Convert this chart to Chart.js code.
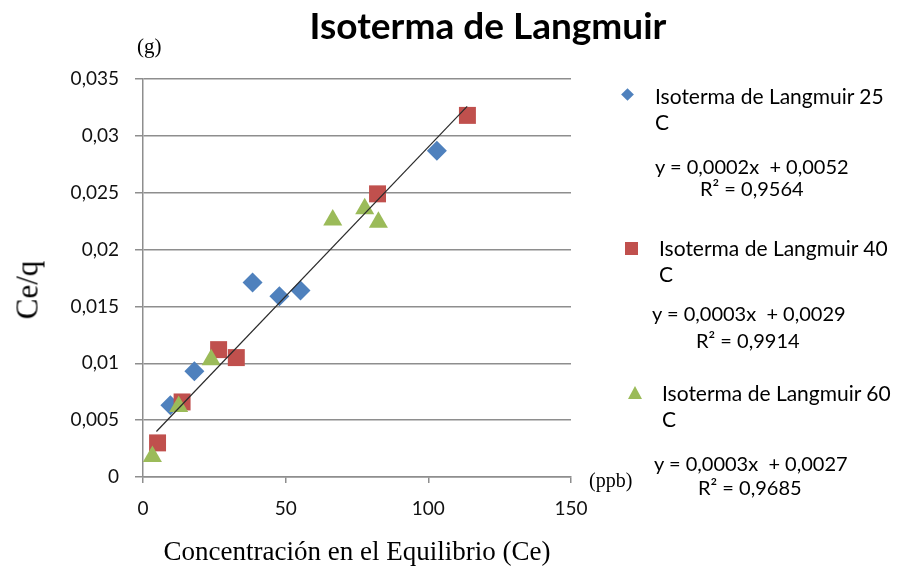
<!DOCTYPE html>
<html>
<head>
<meta charset="utf-8">
<script src="https://cdn.jsdelivr.net/npm/chart.js@4.4.0/dist/chart.umd.min.js"></script>
<style>
html,body{margin:0;padding:0;background:#fff;}
#wrap{position:relative;width:897px;height:571px;overflow:hidden;background:#fff;}
#c{position:absolute;left:0;top:0;}
.t{position:absolute;white-space:pre;line-height:1;color:#000;font-family:Lato,"Open Sans",sans-serif;}
.serif{font-family:"Liberation Serif","Times New Roman",serif;}
.mk{position:absolute;}
</style>
</head>
<body>
<div id="wrap">
<canvas id="c" width="897" height="571"></canvas>
<div id="overlay"></div>
</div>
<script>
// ---- data ----
const x25 = [9.6, 18.0, 38.4, 47.8, 55.2, 103.0];
const y25 = [0.0063, 0.0093, 0.0171, 0.0159, 0.0164, 0.0287];
const x40 = [5.1, 13.7, 26.5, 32.7, 82.2, 113.7];
const y40 = [0.0030, 0.0066, 0.0112, 0.0105, 0.0249, 0.0318];
const x60 = [3.3, 12.5, 23.9, 66.5, 77.7, 82.5];
const y60 = [0.0018, 0.0062, 0.0103, 0.0226, 0.0236, 0.0224];
const trendX = [4.7, 113.6];
const trendY = [0.0040, 0.0326];

const seriesNames = ['Isoterma de Langmuir 25', 'Isoterma de Langmuir 40', 'Isoterma de Langmuir 60'];
const seriesUnit = 'C';
const equations = ['y = 0,0002x  + 0,0052', 'y = 0,0003x  + 0,0029', 'y = 0,0003x  + 0,0027'];
const r2Labels = ['R² = 0,9564', 'R² = 0,9914', 'R² = 0,9685'];
const yTickLabels = ['0', '0,005', '0,01', '0,015', '0,02', '0,025', '0,03', '0,035'];
const xTickLabels = ['0', '50', '100', '150'];
const titleText = 'Isoterma de Langmuir';
const xTitle = 'Concentración en el Equilibrio (Ce)';
const yTitle = 'Ce/q';
const yUnit = '(g)';
const xUnit = '(ppb)';

const colors = ['#4F81BD', '#C0504D', '#9BBB59'];

function pts(xs, ys) { return xs.map((x, i) => ({x: x, y: ys[i]})); }

const gridColor = '#8e8e8e';
const tickFont = {family: 'Lato', size: 19};

new Chart(document.getElementById('c'), {
  type: 'scatter',
  data: {
    datasets: [
      {label: 'trend', data: pts(trendX, trendY), showLine: true, pointRadius: 0, borderColor: '#2b2b2b', borderWidth: 1.2, order: 0},
      {label: seriesNames[2], data: pts(x60, y60), pointStyle: 'triangle', pointRadius: 11, backgroundColor: colors[2], borderColor: colors[2], borderWidth: 0, order: 1},
      {label: seriesNames[1], data: pts(x40, y40), pointStyle: 'rect', pointRadius: 12, backgroundColor: colors[1], borderColor: colors[1], borderWidth: 0, order: 2},
      {label: seriesNames[0], data: pts(x25, y25), pointStyle: 'rectRot', pointRadius: 10, backgroundColor: colors[0], borderColor: colors[0], borderWidth: 0, order: 3}
    ]
  },
  options: {
    responsive: false,
    animation: false,
    events: [],
    devicePixelRatio: 1,
    layout: {padding: {top: 79, right: 326, bottom: 0, left: 0}},
    plugins: {legend: {display: false}, tooltip: {enabled: false}, title: {display: false}},
    scales: {
      x: {
        type: 'linear', min: 0, max: 150,
        afterBuildTicks: s => { s.ticks = xTickLabels.map(v => ({value: Number(v)})); },
        ticks: {callback: (v, i) => xTickLabels[i], padding: 14, font: tickFont, color: '#111', maxRotation: 0},
        grid: {drawOnChartArea: false, drawTicks: true, tickLength: 6, color: gridColor, lineWidth: 1.5},
        border: {color: gridColor, width: 1.5},
        title: {display: true, text: xTitle, color: '#000', font: {family: 'Liberation Serif', size: 27}, padding: {top: 0, bottom: 2}},
        afterFit: s => { s.height = 94; }
      },
      y: {
        type: 'linear', min: 0, max: 0.035,
        afterBuildTicks: s => { s.ticks = yTickLabels.map((v, i) => ({value: i * 0.005})); },
        ticks: {callback: (v, i) => yTickLabels[i], padding: 16, font: tickFont, color: '#111'},
        grid: {drawOnChartArea: true, drawTicks: true, tickLength: 8, color: gridColor, lineWidth: 1.5},
        border: {color: gridColor, width: 1.5},
        title: {display: false},
        afterFit: s => { s.width = 143; }
      }
    }
  }
});

// ---- HTML text overlay (title, axis title, units, legend) ----
const ov = document.getElementById('overlay');
function addText(txt, left, cy, cls, size, extra) {
  const d = document.createElement('div');
  d.className = 't ' + (cls || '');
  d.textContent = txt;
  d.style.fontSize = size + 'px';
  d.style.left = left + 'px';
  d.style.top = (cy - size / 2) + 'px';
  if (extra) Object.assign(d.style, extra);
  ov.appendChild(d);
  return d;
}
addText(titleText, 488, 24, '', 37, {fontWeight: '700', transform: 'translateX(-50%)'});
addText(yTitle, 27, 290, 'serif', 31, {top: '290px', transform: 'translate(-50%,-50%) rotate(-90deg)'});
addText(yUnit, 137, 46, 'serif', 21);
addText(xUnit, 589, 480, 'serif', 20);

const legendTop = [95, 247, 392];
const nameLeft = [655, 659, 662];
const eqLeft = [655, 652, 654];
const eqY = [166, 313, 463];
const r2Left = [700, 696, 698];
const r2Y = [188, 340, 487];
for (let i = 0; i < 3; i++) {
  addText(seriesNames[i], nameLeft[i], legendTop[i], '', 21);
  addText(seriesUnit, nameLeft[i], legendTop[i] + 26, '', 21);
  addText(equations[i], eqLeft[i], eqY[i], '', 20);
  addText(r2Labels[i], r2Left[i], r2Y[i], '', 20);
}
// legend markers
function mk(style) { const d = document.createElement('div'); d.className = 'mk'; Object.assign(d.style, style); ov.appendChild(d); }
mk({left: '623px', top: '90px', width: '9px', height: '9px', background: colors[0], transform: 'rotate(45deg)'});
mk({left: '625px', top: '242px', width: '13px', height: '13px', background: colors[1]});
mk({left: '628px', top: '386px', width: '0', height: '0', borderLeft: '7px solid transparent', borderRight: '7px solid transparent', borderBottom: '13px solid ' + colors[2]});
</script>
</body>
</html>
